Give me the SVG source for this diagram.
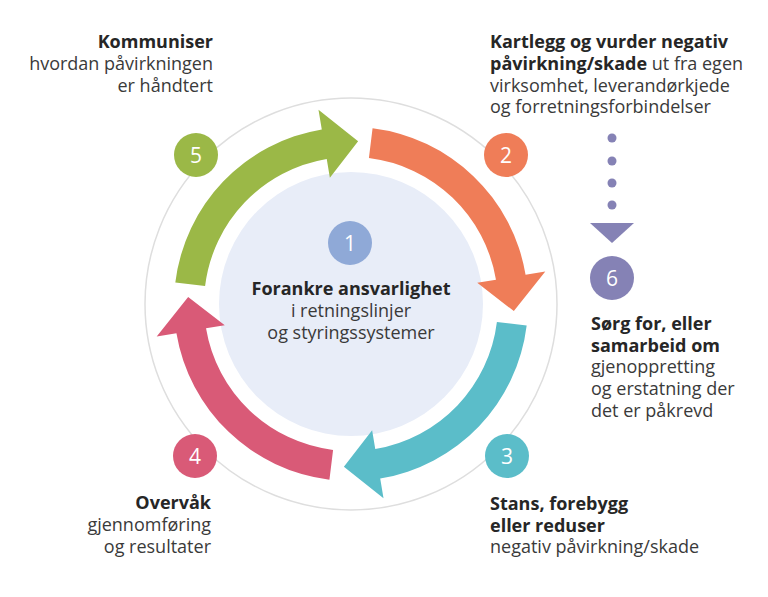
<svg xmlns="http://www.w3.org/2000/svg" width="768" height="597" viewBox="0 0 768 597">
<style>
text{font-family:"Open Sans","Liberation Sans",sans-serif;font-size:18px;fill:#3a3a3a}
.b{font-weight:700;fill:#262626}
.num{fill:#fff;font-size:21px;text-anchor:middle}
.r{text-anchor:end}
.c{text-anchor:middle}
</style>
<rect width="768" height="597" fill="#fff"/>
<circle cx="351" cy="304" r="206" fill="none" stroke="#dedede" stroke-width="1.5"/>
<g id="center">
<circle cx="351" cy="304" r="132" fill="#e8edf8"/>
<circle cx="350" cy="243" r="22" fill="#8fa9d7"/>
<text class="num" x="350" y="250.5">1</text>
<text class="b c" x="351" y="295">Forankre ansvarlighet</text>
<text class="c" x="351" y="317">i retningslinjer</text>
<text class="c" x="351" y="339">og styringssystemer</text>
</g>
<g id="connectors">
<path id="arrow-orange" fill="#ef7d58" d="M372.57,128.32 A177,177 0 0 1 525.57,274.79 L545.30,271.49 L513.85,311.11 L477.24,282.87 L495.98,279.74 A147,147 0 0 0 368.92,158.09 Z"/>
<path id="arrow-teal" fill="#5bbdc9" d="M526.68,325.57 A177,177 0 0 1 380.21,478.57 L383.51,498.30 L343.89,466.85 L372.13,430.24 L375.26,448.98 A147,147 0 0 0 496.91,321.92 Z"/>
<path id="arrow-pink" fill="#d95a77" d="M329.43,479.68 A177,177 0 0 1 176.43,333.21 L156.70,336.51 L188.15,296.89 L224.76,325.13 L206.02,328.26 A147,147 0 0 0 333.08,449.91 Z"/>
<path id="arrow-green" fill="#9bb847" d="M175.32,282.43 A177,177 0 0 1 321.79,129.43 L318.49,109.70 L358.11,141.15 L329.87,177.76 L326.74,159.02 A147,147 0 0 0 205.09,286.08 Z"/>
<g id="dotted-arrow" fill="#8582b5">
<circle cx="612" cy="138" r="4.5"/>
<circle cx="612" cy="161" r="4.5"/>
<circle cx="612" cy="183" r="4.5"/>
<circle cx="612" cy="205" r="4.5"/>
<polygon points="590,223 634,223 612,243"/>
</g>
</g>
<g id="step2">
<circle cx="506" cy="155" r="22" fill="#ef7d58"/>
<text class="num" x="506" y="162.5">2</text>
<text x="490" y="48" class="b">Kartlegg og vurder negativ</text>
<text x="490" y="70"><tspan class="b">påvirkning/skade</tspan> ut fra egen</text>
<text x="490" y="91.5">virksomhet, leverandørkjede</text>
<text x="490" y="113">og forretningsforbindelser</text>
</g>
<g id="step3">
<circle cx="507" cy="456" r="22" fill="#5bbdc9"/>
<text class="num" x="507" y="463.5">3</text>
<text x="490" y="510" class="b">Stans, forebygg</text>
<text x="490" y="532" class="b">eller reduser</text>
<text x="490" y="553">negativ påvirkning/skade</text>
</g>
<g id="step4">
<circle cx="195" cy="456" r="22" fill="#d95a77"/>
<text class="num" x="195" y="463.5">4</text>
<text x="211" y="509" class="b r">Overvåk</text>
<text x="211" y="531" class="r">gjennomføring</text>
<text x="211" y="553" class="r">og resultater</text>
</g>
<g id="step5">
<circle cx="196" cy="155" r="22" fill="#9bb847"/>
<text class="num" x="196" y="162.5">5</text>
<text x="213" y="48" class="b r">Kommuniser</text>
<text x="213" y="70" class="r">hvordan påvirkningen</text>
<text x="213" y="92" class="r">er håndtert</text>
</g>
<g id="step6">
<circle cx="612" cy="278" r="22" fill="#8582b5"/>
<text class="num" x="612" y="285.5">6</text>
<text x="591" y="330" class="b">Sørg for, eller</text>
<text x="591" y="352" class="b">samarbeid om</text>
<text x="591" y="373">gjenoppretting</text>
<text x="591" y="395">og erstatning der</text>
<text x="591" y="417">det er påkrevd</text>
</g>
</svg>
